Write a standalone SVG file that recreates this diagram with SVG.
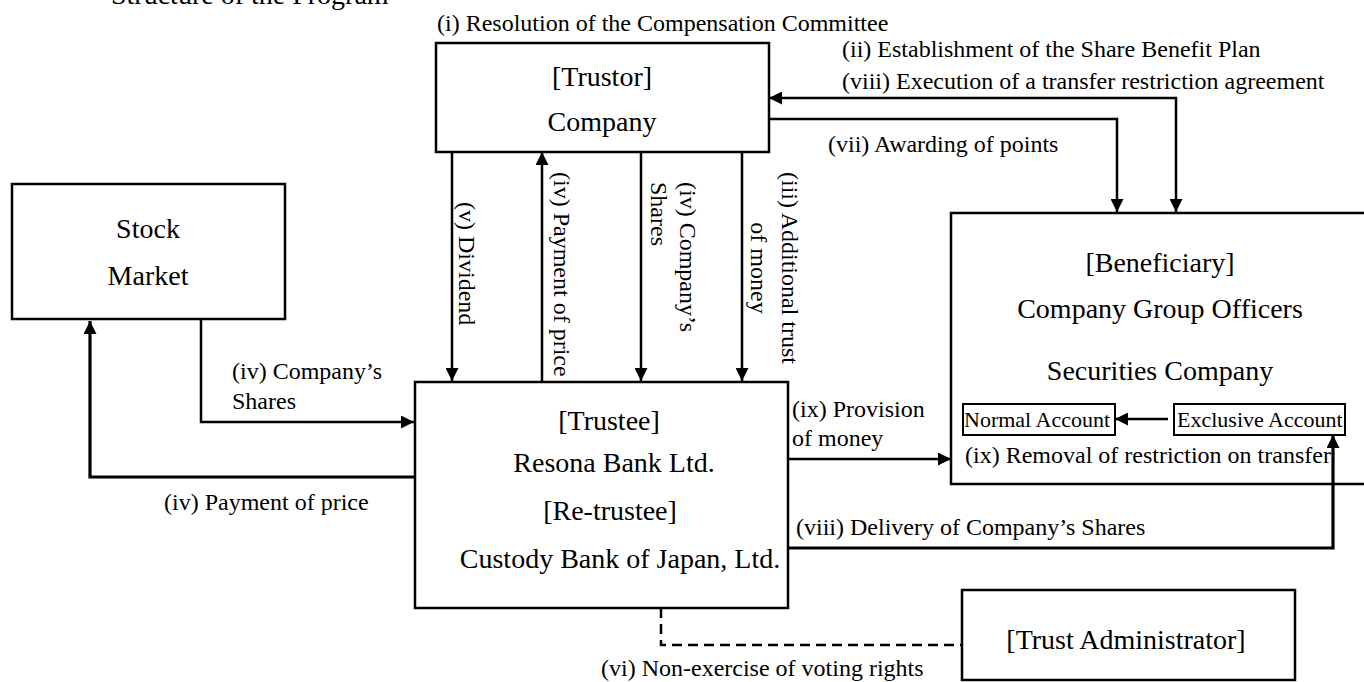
<svg xmlns="http://www.w3.org/2000/svg" width="1364" height="682" viewBox="0 0 1364 682">
<style>
text{font-family:"Liberation Serif","Times New Roman",serif;fill:#000}
.n{font-size:28px;text-anchor:middle}
.l{font-size:24px}
.a{font-size:22px}
.box{fill:#fff;stroke:#000;stroke-width:2.5}
.sbox{fill:none;stroke:#000;stroke-width:2}
.c{fill:none;stroke:#000;stroke-width:2.5}
.t{stroke-width:3.2}
.d{fill:none;stroke:#000;stroke-width:2.5;stroke-dasharray:10,6}
</style>
<defs>
<marker id="ah" markerUnits="userSpaceOnUse" markerWidth="13" markerHeight="13" refX="13" refY="6.5" orient="auto-start-reverse" viewBox="0 0 13 13">
<path d="M0,0 L13,6.5 L0,13 z" fill="#000"/>
</marker>
</defs>
<text class="l" x="111" y="4" style="font-size:28px">Structure of the Program</text>
<text class="l" x="437" y="31">(i) Resolution of the Compensation Committee</text>
<text class="l" x="842" y="57">(ii) Establishment of the Share Benefit Plan</text>
<text class="l" x="842" y="89">(viii) Execution of a transfer restriction agreement</text>
<text class="l" x="828" y="152">(vii) Awarding of points</text>
<g id="trustor">
<rect class="box" x="436" y="43" width="333" height="109"/>
<text class="n" x="602" y="86">[Trustor]</text>
<text class="n" x="602" y="131">Company</text>
</g>
<g id="stock-market">
<rect class="box" x="12" y="184" width="273" height="135"/>
<text class="n" x="148" y="238">Stock</text>
<text class="n" x="148" y="285">Market</text>
</g>
<g id="trustee">
<rect class="box" x="415" y="382" width="373" height="226"/>
<text class="n" x="609" y="430">[Trustee]</text>
<text class="n" x="614" y="472">Resona Bank Ltd.</text>
<text class="n" x="610" y="520">[Re-trustee]</text>
<text class="n" x="620" y="568">Custody Bank of Japan, Ltd.</text>
</g>
<g id="beneficiary">
<rect class="box" x="951" y="213" width="460" height="271"/>
<text class="n" x="1160" y="272">[Beneficiary]</text>
<text class="n" x="1160" y="318">Company Group Officers</text>
<text class="n" x="1160" y="380">Securities Company</text>
<rect class="sbox" x="963" y="404" width="152" height="31"/>
<text class="a" x="964" y="427">Normal Account</text>
<rect class="sbox" x="1174" y="404" width="171" height="31"/>
<text class="a" x="1177" y="427">Exclusive Account</text>
<text class="l" x="965" y="463">(ix) Removal of restriction on transfer</text>
</g>
<g id="trust-administrator">
<rect class="box" x="962" y="590" width="333" height="90"/>
<text class="n" x="1126" y="649">[Trust Administrator]</text>
</g>
<g id="connectors">
<path class="c" d="M769,119 H1117 V212" marker-end="url(#ah)"/>
<path class="c" d="M1176,212 V98 H769" marker-start="url(#ah)" marker-end="url(#ah)"/>
<path class="c" d="M452,152 V381" marker-end="url(#ah)"/>
<path class="c" d="M542,381 V152" marker-end="url(#ah)"/>
<path class="c" d="M641,152 V381" marker-end="url(#ah)"/>
<path class="c" d="M742,152 V381" marker-end="url(#ah)"/>
<path class="c" d="M201,319 V422 H414" marker-end="url(#ah)"/>
<path class="c t" d="M415,477 H90 V321" marker-end="url(#ah)"/>
<path class="c" d="M788,459 H951" marker-end="url(#ah)"/>
<path class="c t" d="M788,548 H1333 V435" marker-end="url(#ah)"/>
<path class="c" d="M1168,419 H1115" marker-end="url(#ah)"/>
<path class="d" d="M661,608 V645 H962"/>
<text class="l" transform="translate(459,202) rotate(90)">(v) Dividend</text>
<text class="l" transform="translate(554,172) rotate(90)">(iv) Payment of price</text>
<text class="l" transform="translate(680,182) rotate(90)">(iv) Company’s</text>
<text class="l" transform="translate(651,182) rotate(90)">Shares</text>
<text class="l" text-anchor="middle" transform="translate(782,268) rotate(90)">(iii) Additional trust</text>
<text class="l" text-anchor="middle" transform="translate(751,268) rotate(90)">of money</text>
<text class="l" x="232" y="379">(iv) Company’s</text>
<text class="l" x="232" y="409">Shares</text>
<text class="l" x="164" y="510">(iv) Payment of price</text>
<text class="l" x="792" y="417">(ix) Provision</text>
<text class="l" x="792" y="446">of money</text>
<text class="l" x="796" y="535">(viii) Delivery of Company’s Shares</text>
<text class="l" x="601" y="676">(vi) Non-exercise of voting rights</text>
</g>
</svg>
